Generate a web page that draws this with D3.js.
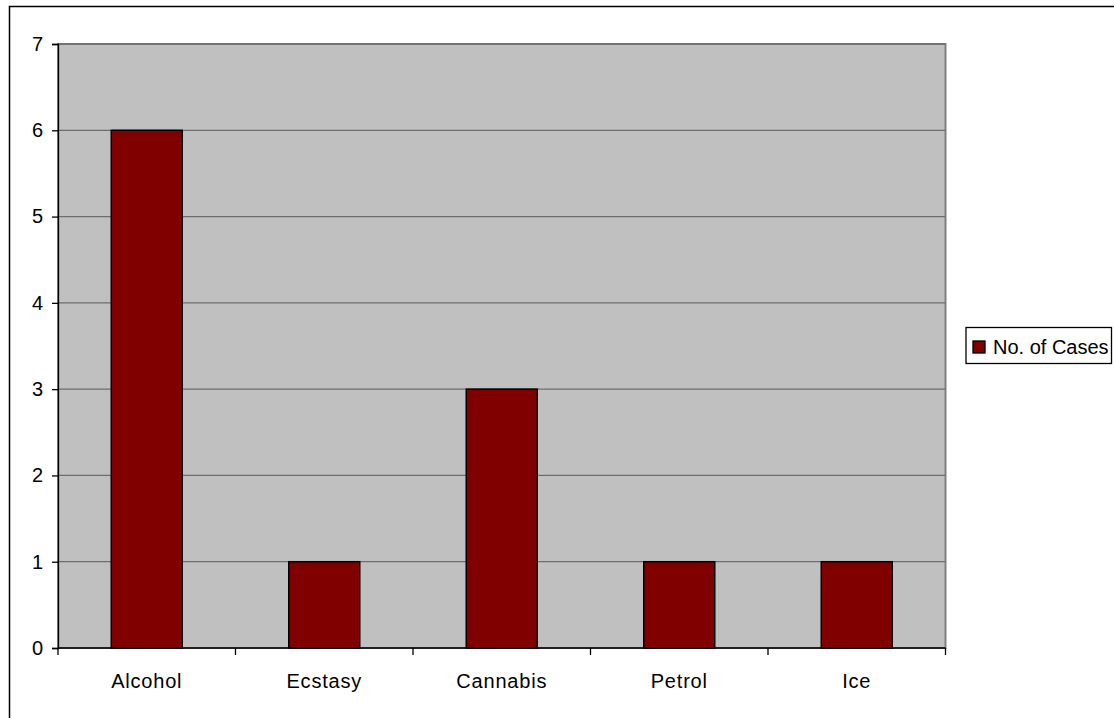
<!DOCTYPE html>
<html>
<head>
<meta charset="utf-8">
<script src="https://cdn.jsdelivr.net/npm/d3@7/dist/d3.min.js"></script>
<style>
	html, body { margin: 0; padding: 0; background: #fff; }
	svg { display: block; }
	text { font-family: "Liberation Sans", Arial, sans-serif; fill: #000; }
</style>
</head>
<body>
<div id="chart"></div>
<script>
// data
var categories = ["Alcohol", "Ecstasy", "Cannabis", "Petrol", "Ice"];
var cases = [6, 1, 3, 1, 1];
var yTicks = [0, 1, 2, 3, 4, 5, 6, 7];
var seriesName = "No. of Cases";

var width = 1114, height = 718;
var margin = { top: 44, right: 168.5, bottom: 70, left: 58 };

var svg = d3.select("#chart").append("svg")
	.attr("width", width)
	.attr("height", height);

// outer chart frame (runs off the right and bottom of the image)
svg.append("rect")
	.attr("x", 9.5)
	.attr("y", 6.5)
	.attr("width", width + 20)
	.attr("height", height + 20)
	.attr("fill", "#fff")
	.attr("stroke", "#000")
	.attr("stroke-width", 1.5);

var x = d3.scaleBand()
	.domain(categories)
	.range([margin.left, width - margin.right])
	.paddingInner(0.6)
	.paddingOuter(0.3);

var y = d3.scaleLinear()
	.domain([0, 7])
	.range([height - margin.bottom, margin.top]);

// plot area
svg.append("rect")
	.attr("x", margin.left)
	.attr("y", y(7))
	.attr("width", x.range()[1] - margin.left)
	.attr("height", y(0) - y(7))
	.attr("fill", "#c0c0c0")
	.attr("stroke", "#808080")
	.attr("stroke-width", 2);

// gridlines
svg.append("g")
	.selectAll("line")
	.data(yTicks.filter(function(d) { return d > 0; }))
	.enter().append("line")
	.attr("x1", margin.left)
	.attr("x2", x.range()[1])
	.attr("y1", function(d) { return y(d); })
	.attr("y2", function(d) { return y(d); })
	.attr("stroke", "#6e6e6e")
	.attr("stroke-width", 1.3);

// bars
svg.append("g")
	.selectAll("rect")
	.data(cases)
	.enter().append("rect")
	.attr("x", function(d, i) { return x(categories[i]); })
	.attr("y", function(d) { return y(d); })
	.attr("width", x.bandwidth())
	.attr("height", function(d) { return y(0) - y(d); })
	.attr("fill", "#800000")
	.attr("stroke", "#000")
	.attr("stroke-width", 1.5);

// y axis
var yAxis = svg.append("g")
	.attr("transform", "translate(" + margin.left + ",0)")
	.call(d3.axisLeft(y).tickValues(yTicks).tickSize(6).tickPadding(9).tickFormat(d3.format("d")));

// x axis, ticks sit between the categories
var xAxis = svg.append("g")
	.attr("transform", "translate(0," + y(0) + ")")
	.call(d3.axisBottom(x).tickSize(0).tickPadding(26));

var step = x.step();
var bounds = d3.range(categories.length + 1).map(function(i) { return margin.left + i * step; });
xAxis.selectAll(".sep")
	.data(bounds)
	.enter().append("line")
	.attr("class", "sep")
	.attr("x1", function(d) { return d; })
	.attr("x2", function(d) { return d; })
	.attr("y1", 0)
	.attr("y2", 7)
	.attr("stroke", "#000")
	.attr("stroke-width", 1.3);

[yAxis, xAxis].forEach(function(a) {
	a.select(".domain").attr("stroke", "#000").attr("stroke-width", 1.3);
	a.selectAll(".tick line").attr("stroke", "#000").attr("stroke-width", 1.3);
	a.selectAll("text")
		.style("font-family", "'Liberation Sans', Arial, sans-serif")
		.style("font-size", "20px")
		.attr("fill", "#000");
});
xAxis.selectAll(".tick text").style("letter-spacing", "0.8px");
xAxis.select(".domain").attr("d", "M" + margin.left + ",0H" + x.range()[1]);

// legend
var legend = svg.append("g").attr("transform", "translate(966,327.5)");
legend.append("rect")
	.attr("x", 0)
	.attr("y", 0)
	.attr("width", 145.5)
	.attr("height", 36)
	.attr("fill", "#fff")
	.attr("stroke", "#000")
	.attr("stroke-width", 1.3);
legend.append("rect")
	.attr("x", 7)
	.attr("y", 13.5)
	.attr("width", 12)
	.attr("height", 12)
	.attr("fill", "#800000")
	.attr("stroke", "#000")
	.attr("stroke-width", 1.3);
legend.append("text")
	.attr("x", 27)
	.attr("y", 26.5)
	.style("font-size", "20px")
	.text(seriesName);
</script>
</body>
</html>
